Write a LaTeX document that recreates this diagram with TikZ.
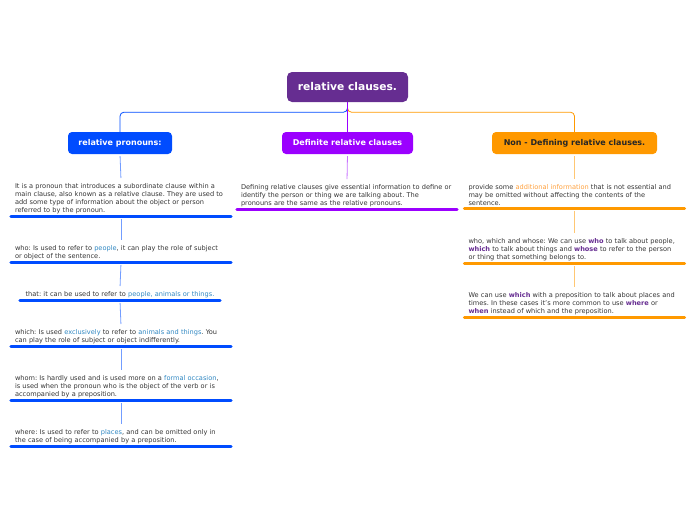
\documentclass[tikz,border=0pt]{standalone}
\usepackage{fontspec}
\setmainfont{DejaVu Sans}
\usepackage{xcolor}
\definecolor{rcpurple}{RGB}{102,45,145}
\definecolor{rcblue}{RGB}{0,76,255}
\definecolor{rcviolet}{RGB}{155,0,255}
\definecolor{rcorange}{RGB}{255,153,0}
\definecolor{rctext}{RGB}{51,51,51}
\definecolor{rclink}{RGB}{46,134,193}
\definecolor{rcnote}{RGB}{255,160,60}
\usetikzlibrary{positioning}
\frenchspacing

\newcommand{\lnk}[1]{\textcolor{rclink}{#1}}
\newcommand{\kw}[1]{\textcolor{rcpurple}{\bfseries #1}}

\tikzset{
  topic/.style={rounded corners=4pt, text=white, font=\fontsize{8}{9}\selectfont\bfseries,
    minimum height=22pt, inner sep=0pt},
  leaf/.style={anchor=north, text=rctext, font=\fontsize{6.6}{8}\selectfont,
    text width=212pt, align=left, inner xsep=4pt, inner ysep=3pt},
  conn/.style={line width=0.8pt, shorten <=2pt, shorten >=2pt},
  uline/.style={line width=2.8pt, line cap=round}
}

\begin{document}
\begin{tikzpicture}[x=1pt, y=-1pt]
  \useasboundingbox (0,0) rectangle (696,520);

  % Central topic
  \node[rounded corners=5pt, fill=rcpurple, text=white, font=\fontsize{10.7}{12}\selectfont\bfseries,
    minimum width=121pt, minimum height=30pt] (root) at (347.5,87) {relative clauses.};

  % Main topics
  \node[topic, fill=rcblue, minimum width=104pt] (pron) at (120,143) {relative pronouns:};
  \node[topic, fill=rcviolet, minimum width=131pt] (defn) at (347.5,143) {Definite relative clauses};
  \node[topic, fill=rcorange, text=black!85, minimum width=165pt] (nondef) at (574.5,143) {Non - Defining relative clauses.};

  \draw[rcblue, line width=0.8pt, rounded corners=4pt] (root.south) -- ++(0,10) -| (pron.north);
  \draw[rcorange, line width=0.8pt, rounded corners=4pt] (root.south) -- ++(0,10) -| (nondef.north);
  \draw[rcviolet, line width=0.8pt] (root.south) -- (defn.north);

  % --- relative pronouns ---
  \node[leaf] (p1) at (121,180) {It is a pronoun that introduces a subordinate clause within a\\
    main clause, also known as a relative clause. They are used to\\
    add some type of information about the object or person\\
    referred to by the pronoun.};
  \node[leaf] (p2) at (121,242) {who: Is used to refer to \lnk{people}, it can play the role of subject\\
    or object of the sentence.};
  \node[leaf, text width=192pt, align=center] (p3) at (120,288) {that: it can be used to refer to \lnk{people, animals or things.}};
  \node[leaf] (p4) at (121,326) {which: Is used \lnk{exclusively} to refer to \lnk{animals and things}. You\\
    can play the role of subject or object indifferently.};
  \node[leaf] (p5) at (121,372) {whom: Is hardly used and is used more on a \lnk{formal occasion},\\
    is used when the pronoun who is the object of the verb or is\\
    accompanied by a preposition.};
  \node[leaf] (p6) at (121,426) {where: Is used to refer to \lnk{places}, and can be omitted only in\\
    the case of being accompanied by a preposition.};

  \foreach \n in {p1,p2,p3,p4,p5,p6}
    \draw[uline, rcblue] (\n.south west) -- (\n.south east);
  \draw[conn, rcblue!55] (pron.south) -- (p1.north);
  \draw[conn, rcblue!55] (p1.south) -- (p2.north);
  \draw[conn, rcblue!55] (p2.south) -- (p3.north);
  \draw[conn, rcblue!55] (p3.south) -- (p4.north);
  \draw[conn, rcblue!55] (p4.south) -- (p5.north);
  \draw[conn, rcblue!55] (p5.south) -- (p6.north);

  % --- defining clauses ---
  \node[leaf] (d1) at (347,181) {Defining relative clauses give essential information to define or\\
    identify the person or thing we are talking about. The\\
    pronouns are the same as the relative pronouns.};
  \draw[uline, rcviolet] (d1.south west) -- (d1.south east);
  \draw[conn, rcviolet!55] (defn.south) -- (d1.north);

  % --- non-defining clauses ---
  \node[leaf] (n1) at (574.5,181) {provide some \textcolor{rcnote}{additional information} that is not essential and\\
    may be omitted without affecting the contents of the\\
    sentence.};
  \node[leaf] (n2) at (574.5,235) {who, which and whose: We can use \kw{who} to talk about people,\\
    \kw{which} to talk about things and \kw{whose} to refer to the person\\
    or thing that something belongs to.};
  \node[leaf] (n3) at (574.5,289) {We can use \kw{which} with a preposition to talk about places and\\
    times. In these cases it's more common to use \kw{where} or\\
    \kw{when} instead of which and the preposition.};

  \foreach \n in {n1,n2,n3}
    \draw[uline, rcorange] (\n.south west) -- (\n.south east);
  \draw[conn, rcorange!55] (nondef.south) -- (n1.north);
  \draw[conn, rcorange!55] (n1.south) -- (n2.north);
  \draw[conn, rcorange!55] (n2.south) -- (n3.north);
\end{tikzpicture}
\end{document}
